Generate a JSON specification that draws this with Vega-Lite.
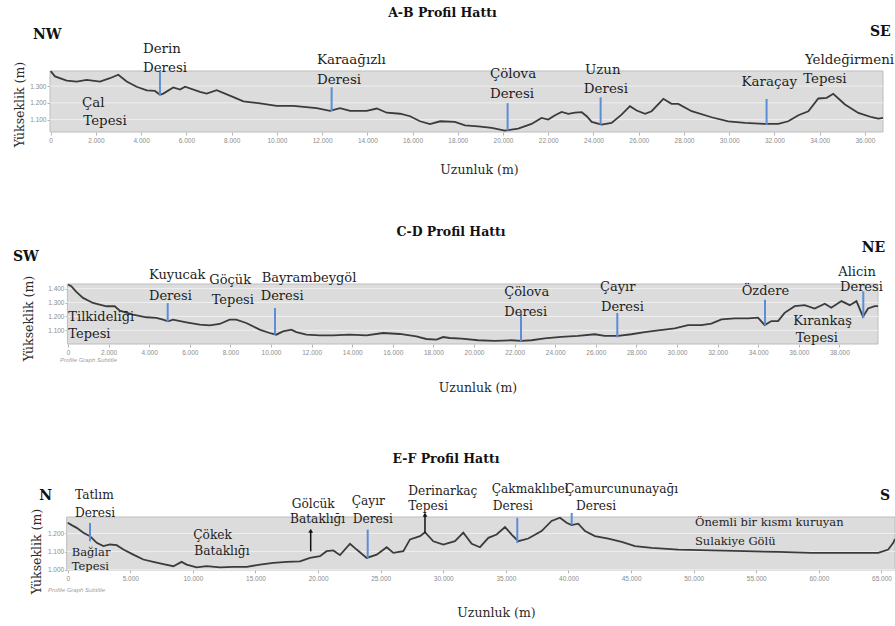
{
  "$schema": "https://vega.github.io/schema/vega-lite/v6.json",
  "background": "white",
  "padding": {"left": 13, "top": 7, "right": 0, "bottom": 0},
  "config": {
    "view": {"stroke": null},
    "axis": {"labelFontSize": 6.5, "labelColor": "#8c8c8c", "labelFont": "Liberation Sans", "labelPadding": 2, "tickSize": 3, "tickColor": "#b5b5b5", "domain": false, "grid": false, "titleFont": "DejaVu Serif", "titleFontSize": 12.5, "titleFontWeight": "normal", "titleColor": "#2b2b2b", "labelFlush": false, "labelOverlap": false, "labelBound": false, "labelSeparation": 0}
  },
  "datasets": {
    "ab": [
      {"d":0,"e":1389},{"d":190,"e":1358},{"d":710,"e":1333},{"d":1150,"e":1327},{"d":1590,"e":1337},{"d":2180,"e":1327},{"d":2620,"e":1347},{"d":2990,"e":1368},{"d":3360,"e":1327},{"d":3800,"e":1296},{"d":4250,"e":1275},{"d":4610,"e":1271},{"d":4830,"e":1248},{"d":4980,"e":1255},{"d":5420,"e":1292},{"d":5720,"e":1279},{"d":5940,"e":1296},{"d":6600,"e":1265},{"d":6900,"e":1255},{"d":7340,"e":1275},{"d":8080,"e":1234},{"d":8520,"e":1209},{"d":9260,"e":1197},{"d":9990,"e":1182},{"d":10730,"e":1182},{"d":11760,"e":1168},{"d":12350,"e":1152},{"d":12790,"e":1168},{"d":13240,"e":1152},{"d":13970,"e":1152},{"d":14420,"e":1166},{"d":14860,"e":1141},{"d":15450,"e":1135},{"d":15890,"e":1120},{"d":16330,"e":1090},{"d":16770,"e":1073},{"d":17220,"e":1090},{"d":17870,"e":1086},{"d":18320,"e":1066},{"d":18900,"e":1060},{"d":19500,"e":1050},{"d":20080,"e":1034},{"d":20670,"e":1046},{"d":21260,"e":1074},{"d":21700,"e":1110},{"d":22000,"e":1100},{"d":22300,"e":1126},{"d":22590,"e":1146},{"d":22890,"e":1134},{"d":23180,"e":1142},{"d":23480,"e":1144},{"d":23700,"e":1120},{"d":23920,"e":1086},{"d":24360,"e":1070},{"d":24800,"e":1080},{"d":25240,"e":1130},{"d":25610,"e":1180},{"d":25910,"e":1154},{"d":26280,"e":1134},{"d":26570,"e":1150},{"d":27090,"e":1224},{"d":27450,"e":1194},{"d":27750,"e":1194},{"d":28340,"e":1150},{"d":29220,"e":1114},{"d":29960,"e":1090},{"d":30700,"e":1080},{"d":31580,"e":1074},{"d":32170,"e":1074},{"d":32610,"e":1090},{"d":33060,"e":1126},{"d":33500,"e":1150},{"d":33940,"e":1226},{"d":34310,"e":1230},{"d":34600,"e":1254},{"d":35120,"e":1190},{"d":35710,"e":1140},{"d":36300,"e":1114},{"d":36590,"e":1106},{"d":36800,"e":1110}
    ],
    "abTitle": [{"t":"A-B Profil Hattı","d":17321,"e":1712}],
    "abDir": [{"t":"NW","d":-782,"e":1581},{"t":"SE","d":36221,"e":1599}],
    "abLab": [
      {"t":"Derin","d":4080,"e":1497},{"t":"Deresi","d":4080,"e":1384},
      {"t":"Karaağızlı","d":11773,"e":1432},{"t":"Deresi","d":11773,"e":1312},
      {"t":"Çal","d":1384,"e":1178},{"t":"Tepesi","d":1441,"e":1068},
      {"t":"Çölova","d":19420,"e":1348},{"t":"Deresi","d":19420,"e":1229},
      {"t":"Uzun","d":23621,"e":1372},{"t":"Deresi","d":23572,"e":1259},
      {"t":"Karaçay","d":30548,"e":1303},
      {"t":"Yeldeğirmeni","d":33346,"e":1434},{"t":"Tepesi","d":33271,"e":1318}
    ],
    "abMark": [
      {"d":4832,"e1":1245,"e2":1386},{"d":12422,"e1":1150,"e2":1293},{"d":20203,"e1":1034,"e2":1198},{"d":24315,"e1":1070,"e2":1233},{"d":31653,"e1":1070,"e2":1223}
    ],
    "cd": [
      {"d":0,"e":1429},{"d":164,"e":1417},{"d":410,"e":1376},{"d":740,"e":1333},{"d":1230,"e":1297},{"d":1890,"e":1273},{"d":2300,"e":1273},{"d":2550,"e":1242},{"d":3200,"e":1213},{"d":3860,"e":1194},{"d":4350,"e":1189},{"d":4680,"e":1177},{"d":4930,"e":1165},{"d":5170,"e":1177},{"d":5830,"e":1158},{"d":6490,"e":1141},{"d":6980,"e":1136},{"d":7470,"e":1146},{"d":7960,"e":1177},{"d":8290,"e":1177},{"d":8780,"e":1153},{"d":9440,"e":1105},{"d":9930,"e":1081},{"d":10260,"e":1069},{"d":10590,"e":1093},{"d":11000,"e":1105},{"d":11250,"e":1088},{"d":11740,"e":1069},{"d":12400,"e":1064},{"d":13050,"e":1064},{"d":13870,"e":1069},{"d":14700,"e":1064},{"d":15520,"e":1081},{"d":16340,"e":1074},{"d":17160,"e":1057},{"d":17650,"e":1038},{"d":18150,"e":1033},{"d":18480,"e":1052},{"d":18800,"e":1045},{"d":19380,"e":1041},{"d":20200,"e":1029},{"d":21020,"e":1024},{"d":21840,"e":1029},{"d":22330,"e":1024},{"d":22830,"e":1029},{"d":23480,"e":1043},{"d":24300,"e":1053},{"d":25120,"e":1060},{"d":25950,"e":1072},{"d":26440,"e":1060},{"d":27100,"e":1060},{"d":27750,"e":1072},{"d":28410,"e":1088},{"d":29070,"e":1100},{"d":29890,"e":1114},{"d":30540,"e":1138},{"d":31200,"e":1138},{"d":31690,"e":1148},{"d":32190,"e":1179},{"d":32840,"e":1186},{"d":33500,"e":1186},{"d":33990,"e":1191},{"d":34320,"e":1138},{"d":34650,"e":1167},{"d":34980,"e":1167},{"d":35300,"e":1226},{"d":35800,"e":1274},{"d":36290,"e":1281},{"d":36780,"e":1257},{"d":37280,"e":1291},{"d":37600,"e":1262},{"d":38100,"e":1310},{"d":38510,"e":1281},{"d":38840,"e":1310},{"d":39160,"e":1198},{"d":39410,"e":1257},{"d":39740,"e":1274},{"d":39900,"e":1274}
    ],
    "cdTitle": [{"t":"C-D Profil Hattı","d":18867,"e":1778}],
    "cdDir": [{"t":"SW","d":-2709,"e":1600},{"t":"NE","d":39099,"e":1662}],
    "cdLab": [
      {"t":"Kuyucak","d":3990,"e":1469},{"t":"Deresi","d":3990,"e":1320},
      {"t":"Göçük","d":6961,"e":1435},{"t":"Tepesi","d":7079,"e":1291},
      {"t":"Bayrambeygöl","d":9542,"e":1445},{"t":"Deresi","d":9493,"e":1320},
      {"t":"Tilkideliği","d":15,"e":1165},{"t":"Tepesi","d":15,"e":1045},
      {"t":"Çölova","d":21493,"e":1345},{"t":"Deresi","d":21493,"e":1201},
      {"t":"Çayır","d":26207,"e":1381},{"t":"Deresi","d":26256,"e":1241},
      {"t":"Özdere","d":33187,"e":1352},
      {"t":"Kırankaş","d":35729,"e":1141},{"t":"Tepesi","d":35847,"e":1016},
      {"t":"Alicin","d":37946,"e":1488},{"t":"Deresi","d":38030,"e":1380}
    ],
    "cdMark": [
      {"d":4911,"e1":1160,"e2":1296},{"d":10197,"e1":1069,"e2":1261},{"d":22315,"e1":1021,"e2":1225},{"d":27059,"e1":1050,"e2":1225},{"d":34335,"e1":1136,"e2":1320},{"d":39177,"e1":1189,"e2":1381}
    ],
    "cdSub": [{"t":"Profile Graph Subtitle","d":-394,"e":873}],
    "ef": [
      {"d":0,"e":1259},{"d":320,"e":1246},{"d":720,"e":1231},{"d":1250,"e":1204},{"d":1780,"e":1185},{"d":2320,"e":1148},{"d":2850,"e":1130},{"d":3380,"e":1139},{"d":3910,"e":1135},{"d":4450,"e":1111},{"d":5240,"e":1083},{"d":6040,"e":1056},{"d":6840,"e":1043},{"d":7640,"e":1031},{"d":8440,"e":1019},{"d":9100,"e":1043},{"d":9500,"e":1028},{"d":10300,"e":1013},{"d":11100,"e":1019},{"d":12170,"e":1013},{"d":13230,"e":1015},{"d":14300,"e":1015},{"d":15360,"e":1028},{"d":16420,"e":1037},{"d":17490,"e":1043},{"d":18550,"e":1046},{"d":19350,"e":1065},{"d":20150,"e":1074},{"d":20680,"e":1102},{"d":21220,"e":1106},{"d":21750,"e":1080},{"d":22550,"e":1143},{"d":23080,"e":1111},{"d":23880,"e":1065},{"d":24680,"e":1083},{"d":25480,"e":1124},{"d":26010,"e":1093},{"d":26810,"e":1102},{"d":27340,"e":1167},{"d":28140,"e":1185},{"d":28540,"e":1207},{"d":29200,"e":1157},{"d":30000,"e":1139},{"d":30930,"e":1157},{"d":31600,"e":1204},{"d":32270,"e":1143},{"d":32930,"e":1124},{"d":33600,"e":1176},{"d":34260,"e":1194},{"d":34930,"e":1235},{"d":35460,"e":1194},{"d":35990,"e":1157},{"d":36790,"e":1172},{"d":37850,"e":1213},{"d":38650,"e":1269},{"d":39320,"e":1287},{"d":39850,"e":1259},{"d":40250,"e":1246},{"d":40780,"e":1254},{"d":41320,"e":1213},{"d":42110,"e":1185},{"d":43180,"e":1172},{"d":44250,"e":1154},{"d":45310,"e":1130},{"d":46640,"e":1120},{"d":48770,"e":1111},{"d":51430,"e":1106},{"d":54090,"e":1102},{"d":56760,"e":1098},{"d":59420,"e":1093},{"d":62080,"e":1093},{"d":64740,"e":1093},{"d":65540,"e":1111},{"d":65940,"e":1148},{"d":66080,"e":1170}
    ],
    "efTitle": [{"t":"E-F Profil Hattı","d":30216,"e":1589}],
    "efDir": [{"t":"N","d":-2268,"e":1387},{"t":"S","d":64880,"e":1387}],
    "efLab": [
      {"t":"Tatlım","d":583,"e":1390},{"t":"Deresi","d":583,"e":1289},
      {"t":"Çökek","d":10032,"e":1171},{"t":"Bataklığı","d":10112,"e":1083},
      {"t":"Gölcük","d":17891,"e":1341},{"t":"Bataklığı","d":17756,"e":1258},
      {"t":"Çayır","d":22684,"e":1356},{"t":"Deresi","d":22764,"e":1258},
      {"t":"Derinarkaç","d":27204,"e":1414},{"t":"Tepesi","d":27204,"e":1331},
      {"t":"Çakmaklıbel","d":33866,"e":1424},{"t":"Deresi","d":33946,"e":1331},
      {"t":"Çamurcununayağı","d":39721,"e":1424},{"t":"Deresi","d":40599,"e":1331}
    ],
    "efLabSmall": [
      {"t":"Önemli bir kısmı kuruyan","d":50104,"e":1240},{"t":"Sulakiye Gölü","d":50104,"e":1138},
      {"t":"Bağlar","d":319,"e":1075},{"t":"Tepesi","d":319,"e":996}
    ],
    "efMark": [
      {"d":1781,"e1":1157,"e2":1258},{"d":23962,"e1":1064,"e2":1221},{"d":35910,"e1":1147,"e2":1286},{"d":40256,"e1":1248,"e2":1313}
    ],
    "efArrow": [
      {"d":19409,"e1":1101,"e2":1215},{"d":28538,"e1":1203,"e2":1304}
    ],
    "efSub": [{"t":"Profile Graph Subtitle","d":-1573,"e":876}]
  },
  "bounds": "flush",
  "spacing": 152,
  "resolve": {"scale": {"x": "independent", "y": "independent"}},
  "vconcat": [
    {
      "width": 833,
      "height": 61,
      "layer": [
        {
          "data": {"values": [{}]},
          "mark": {"type": "rect", "fill": "#dcdcdc", "stroke": "#bdbdbd", "strokeWidth": 1},
          "encoding": {
            "x": {"datum": -30, "type": "quantitative", "scale": {"domain": [-30, 36800], "nice": false, "zero": false}},
            "x2": {"datum": 36800},
            "y": {"datum": 1026, "type": "quantitative", "scale": {"domain": [1026, 1390], "nice": false, "zero": false}},
            "y2": {"datum": 1390}
          }
        },
        {
          "data": {"values": [{"g":1100},{"g":1200},{"g":1300}]},
          "mark": {"type": "rule", "color": "#efefef", "strokeWidth": 1},
          "encoding": {
            "x": {"datum": -30, "type": "quantitative"},
            "x2": {"datum": 36800},
            "y": {"field": "g", "type": "quantitative"}
          }
        },
        {
          "data": {"name": "ab"},
          "mark": {"type": "line", "color": "#3b3b3b", "strokeWidth": 1.8},
          "encoding": {
            "x": {"field": "d", "type": "quantitative", "scale": {"domain": [-30, 36800], "nice": false, "zero": false},
              "axis": {"values": [0,2000,4000,6000,8000,10000,12000,14000,16000,18000,20000,22000,24000,26000,28000,30000,32000,34000,36000], "tickCount": 20, "labelOverlap": false, "labelExpr": "replace(format(datum.value, ','), ',', '.')", "title": "Uzunluk (m)", "titleX": 429, "titleY": 41, "titleAlign": "center", "titleBaseline": "alphabetic"}},
            "y": {"field": "e", "type": "quantitative", "scale": {"domain": [1026, 1390], "nice": false, "zero": false},
              "axis": {"values": [1100,1200,1300], "tickCount": 4, "labelOverlap": false, "labelExpr": "replace(format(datum.value, ','), ',', '.')", "labelPadding": 1, "title": "Yükseklik (m)", "titleX": -31, "titleY": 33, "titleAlign": "center", "titleBaseline": "middle", "titleAngle": 270}}
          }
        },
        {
          "data": {"name": "abMark"},
          "mark": {"type": "rule", "color": "#5b8ed6", "strokeWidth": 2},
          "encoding": {"x": {"field": "d", "type": "quantitative"}, "y": {"field": "e1", "type": "quantitative"}, "y2": {"field": "e2"}}
        },
        {
          "data": {"name": "abLab"},
          "mark": {"type": "text", "align": "left", "baseline": "alphabetic", "font": "DejaVu Serif", "fontSize": 13.4, "color": "#1e1e1e"},
          "encoding": {"x": {"field": "d", "type": "quantitative"}, "y": {"field": "e", "type": "quantitative"}, "text": {"field": "t"}}
        },
        {
          "data": {"name": "abDir"},
          "mark": {"type": "text", "align": "left", "baseline": "alphabetic", "font": "DejaVu Serif", "fontSize": 14, "fontWeight": "bold", "color": "#111"},
          "encoding": {"x": {"field": "d", "type": "quantitative"}, "y": {"field": "e", "type": "quantitative"}, "text": {"field": "t"}}
        },
        {
          "data": {"name": "abTitle"},
          "mark": {"type": "text", "align": "center", "baseline": "alphabetic", "font": "DejaVu Serif", "fontSize": 12.5, "fontWeight": "bold", "color": "#111"},
          "encoding": {"x": {"field": "d", "type": "quantitative"}, "y": {"field": "e", "type": "quantitative"}, "text": {"field": "t"}}
        }
      ]
    },
    {
      "bounds": "flush",
      "spacing": 173,
      "resolve": {"scale": {"x": "independent", "y": "independent"}},
      "vconcat": [
        {
          "width": 828,
          "height": 60,
          "layer": [
            {
              "data": {"values": [{}]},
              "mark": {"type": "rect", "fill": "#dcdcdc", "stroke": "#bdbdbd", "strokeWidth": 1},
              "encoding": {
                "x": {"datum": -30, "type": "quantitative", "scale": {"domain": [-887, 39901], "nice": false, "zero": false}},
                "x2": {"datum": 39901},
                "y": {"datum": 1002, "type": "quantitative", "scale": {"domain": [1002, 1433], "nice": false, "zero": false}},
                "y2": {"datum": 1433}
              }
            },
            {
              "data": {"values": [{"g":1100},{"g":1200},{"g":1300},{"g":1400}]},
              "mark": {"type": "rule", "color": "#efefef", "strokeWidth": 1},
              "encoding": {
                "x": {"datum": -30, "type": "quantitative"},
                "x2": {"datum": 39901},
                "y": {"field": "g", "type": "quantitative"}
              }
            },
            {
              "data": {"name": "cd"},
              "mark": {"type": "line", "color": "#3b3b3b", "strokeWidth": 1.8},
              "encoding": {
                "x": {"field": "d", "type": "quantitative", "scale": {"domain": [-887, 39901], "nice": false, "zero": false},
                  "axis": {"values": [0,2000,4000,6000,8000,10000,12000,14000,16000,18000,20000,22000,24000,26000,28000,30000,32000,34000,36000,38000], "tickCount": 20, "labelOverlap": false, "labelExpr": "replace(format(datum.value, ','), ',', '.')", "title": "Uzunluk (m)", "titleX": 427.5, "titleY": 47, "titleAlign": "center", "titleBaseline": "alphabetic"}},
                "y": {"field": "e", "type": "quantitative", "scale": {"domain": [1002, 1433], "nice": false, "zero": false},
                  "axis": {"values": [1100,1200,1300,1400], "tickCount": 5, "labelOverlap": false, "offset": -18, "labelExpr": "replace(format(datum.value, ','), ',', '.')", "labelPadding": 1, "title": "Yükseklik (m)", "titleX": -39.7, "titleY": 34, "titleAlign": "center", "titleBaseline": "middle", "titleAngle": 270}}
              }
            },
            {
              "data": {"name": "cdMark"},
              "mark": {"type": "rule", "color": "#5b8ed6", "strokeWidth": 2},
              "encoding": {"x": {"field": "d", "type": "quantitative"}, "y": {"field": "e1", "type": "quantitative"}, "y2": {"field": "e2"}}
            },
            {
              "data": {"name": "cdLab"},
              "mark": {"type": "text", "align": "left", "baseline": "alphabetic", "font": "DejaVu Serif", "fontSize": 13, "color": "#1e1e1e"},
              "encoding": {"x": {"field": "d", "type": "quantitative"}, "y": {"field": "e", "type": "quantitative"}, "text": {"field": "t"}}
            },
            {
              "data": {"name": "cdDir"},
              "mark": {"type": "text", "align": "left", "baseline": "alphabetic", "font": "DejaVu Serif", "fontSize": 14, "fontWeight": "bold", "color": "#111"},
              "encoding": {"x": {"field": "d", "type": "quantitative"}, "y": {"field": "e", "type": "quantitative"}, "text": {"field": "t"}}
            },
            {
              "data": {"name": "cdTitle"},
              "mark": {"type": "text", "align": "center", "baseline": "alphabetic", "font": "DejaVu Serif", "fontSize": 12.5, "fontWeight": "bold", "color": "#111"},
              "encoding": {"x": {"field": "d", "type": "quantitative"}, "y": {"field": "e", "type": "quantitative"}, "text": {"field": "t"}}
            },
            {
              "data": {"name": "cdSub"},
              "mark": {"type": "text", "align": "left", "baseline": "alphabetic", "font": "Liberation Sans", "fontSize": 6, "fontStyle": "italic", "color": "#a0a0a0"},
              "encoding": {"x": {"field": "d", "type": "quantitative"}, "y": {"field": "e", "type": "quantitative"}, "text": {"field": "t"}}
            }
          ]
        },
        {
          "width": 845,
          "height": 53,
          "layer": [
            {
              "data": {"values": [{}]},
              "mark": {"type": "rect", "fill": "#dcdcdc", "stroke": "#bdbdbd", "strokeWidth": 1},
              "encoding": {
                "x": {"datum": -80, "type": "quantitative", "scale": {"domain": [-1414, 66080], "nice": false, "zero": false}},
                "x2": {"datum": 66080},
                "y": {"datum": 998, "type": "quantitative", "scale": {"domain": [998, 1291], "nice": false, "zero": false}},
                "y2": {"datum": 1291}
              }
            },
            {
              "data": {"values": [{"g":1000},{"g":1100},{"g":1200}]},
              "mark": {"type": "rule", "color": "#efefef", "strokeWidth": 1},
              "encoding": {
                "x": {"datum": -80, "type": "quantitative"},
                "x2": {"datum": 66080},
                "y": {"field": "g", "type": "quantitative"}
              }
            },
            {
              "data": {"name": "ef"},
              "mark": {"type": "line", "color": "#3b3b3b", "strokeWidth": 1.8},
              "encoding": {
                "x": {"field": "d", "type": "quantitative", "scale": {"domain": [-1414, 66080], "nice": false, "zero": false},
                  "axis": {"values": [0,5000,10000,15000,20000,25000,30000,35000,40000,45000,50000,55000,60000,65000], "tickCount": 14, "labelOverlap": false, "labelExpr": "replace(format(datum.value, ','), ',', '.')", "title": "Uzunluk (m)", "titleX": 446, "titleY": 46.3, "titleAlign": "center", "titleBaseline": "alphabetic"}},
                "y": {"field": "e", "type": "quantitative", "scale": {"domain": [998, 1291], "nice": false, "zero": false},
                  "axis": {"values": [1000,1100,1200], "tickCount": 4, "labelOverlap": false, "offset": -17.7, "labelExpr": "replace(format(datum.value, ','), ',', '.')", "labelPadding": 1, "title": "Yükseklik (m)", "titleX": -31.4, "titleY": 34, "titleAlign": "center", "titleBaseline": "middle", "titleAngle": 270}}
              }
            },
            {
              "data": {"name": "efMark"},
              "mark": {"type": "rule", "color": "#5b8ed6", "strokeWidth": 2},
              "encoding": {"x": {"field": "d", "type": "quantitative"}, "y": {"field": "e1", "type": "quantitative"}, "y2": {"field": "e2"}}
            },
            {
              "data": {"name": "efArrow"},
              "mark": {"type": "rule", "color": "#111", "strokeWidth": 1.5},
              "encoding": {"x": {"field": "d", "type": "quantitative"}, "y": {"field": "e1", "type": "quantitative"}, "y2": {"field": "e2"}}
            },
            {
              "data": {"name": "efArrow"},
              "mark": {"type": "point", "shape": "triangle-up", "filled": true, "color": "#111", "size": 22, "opacity": 1},
              "encoding": {"x": {"field": "d", "type": "quantitative"}, "y": {"field": "e2", "type": "quantitative"}}
            },
            {
              "data": {"name": "efLab"},
              "mark": {"type": "text", "align": "left", "baseline": "alphabetic", "font": "DejaVu Serif", "fontSize": 12.2, "color": "#1e1e1e"},
              "encoding": {"x": {"field": "d", "type": "quantitative"}, "y": {"field": "e", "type": "quantitative"}, "text": {"field": "t"}}
            },
            {
              "data": {"name": "efLabSmall"},
              "mark": {"type": "text", "align": "left", "baseline": "alphabetic", "font": "DejaVu Serif", "fontSize": 11.5, "color": "#1e1e1e"},
              "encoding": {"x": {"field": "d", "type": "quantitative"}, "y": {"field": "e", "type": "quantitative"}, "text": {"field": "t"}}
            },
            {
              "data": {"name": "efDir"},
              "mark": {"type": "text", "align": "left", "baseline": "alphabetic", "font": "DejaVu Serif", "fontSize": 14, "fontWeight": "bold", "color": "#111"},
              "encoding": {"x": {"field": "d", "type": "quantitative"}, "y": {"field": "e", "type": "quantitative"}, "text": {"field": "t"}}
            },
            {
              "data": {"name": "efTitle"},
              "mark": {"type": "text", "align": "center", "baseline": "alphabetic", "font": "DejaVu Serif", "fontSize": 12.5, "fontWeight": "bold", "color": "#111"},
              "encoding": {"x": {"field": "d", "type": "quantitative"}, "y": {"field": "e", "type": "quantitative"}, "text": {"field": "t"}}
            },
            {
              "data": {"name": "efSub"},
              "mark": {"type": "text", "align": "left", "baseline": "alphabetic", "font": "Liberation Sans", "fontSize": 6, "fontStyle": "italic", "color": "#a0a0a0"},
              "encoding": {"x": {"field": "d", "type": "quantitative"}, "y": {"field": "e", "type": "quantitative"}, "text": {"field": "t"}}
            }
          ]
        }
      ]
    }
  ]
}
